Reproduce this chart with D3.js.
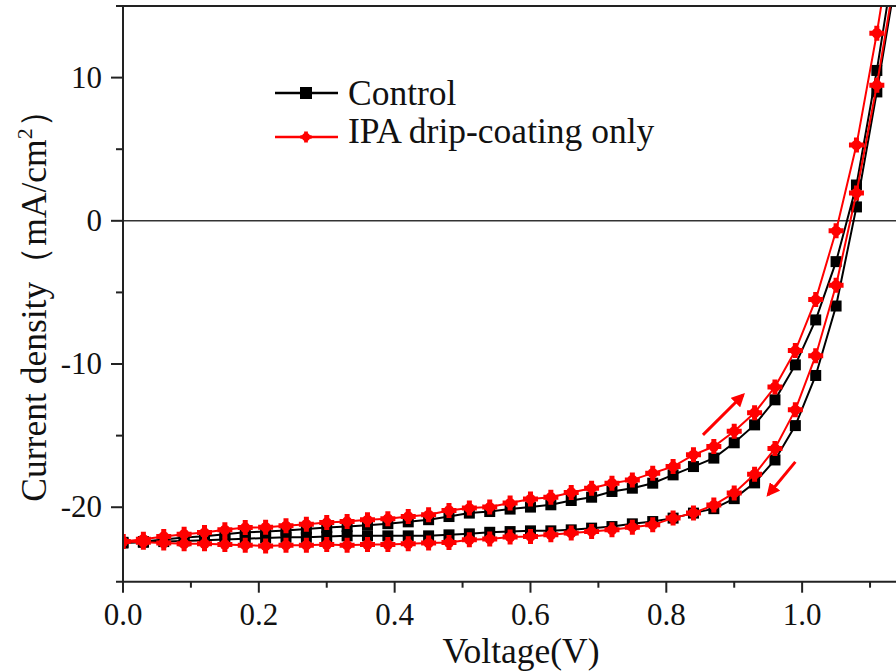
<!DOCTYPE html>
<html>
<head>
<meta charset="utf-8">
<script src="https://cdn.jsdelivr.net/npm/d3@7"></script>
<style>
  body { margin: 0; background: #fff; }
  svg { display: block; font-family: "Liberation Serif", "Times New Roman", "DejaVu Serif", serif; }
</style>
</head>
<body>
<svg width="896" height="671"></svg>
<script>
// voltage steps of the J-V scans (V)
const voltage = [0, 0.03, 0.06, 0.09, 0.12, 0.15, 0.18, 0.21, 0.24, 0.27, 0.30, 0.33, 0.36, 0.39,
  0.42, 0.45, 0.48, 0.51, 0.54, 0.57, 0.60, 0.63, 0.66, 0.69, 0.72, 0.75, 0.78, 0.81, 0.84, 0.87,
  0.90, 0.93, 0.96, 0.99, 1.02, 1.05, 1.08, 1.11, 1.14];

// current density (mA/cm2)
const controlForward = [-22.45, -22.40, -22.25, -22.12, -22.02, -21.88, -21.75, -21.70, -21.62, -21.52,
  -21.42, -21.35, -21.25, -21.15, -21.02, -20.87, -20.65, -20.41, -20.30, -20.13, -19.99, -19.83,
  -19.53, -19.30, -18.90, -18.67, -18.32, -17.74, -17.16, -16.57, -15.50, -14.25, -12.50, -10.06,
  -6.92, -2.85, 2.50, 10.50, 19.5];
const controlReverse = [-22.50, -22.45, -22.40, -22.35, -22.30, -22.25, -22.20, -22.15, -22.10, -22.10,
  -22.05, -22.00, -22.00, -22.00, -22.00, -22.00, -21.93, -21.86, -21.75, -21.70, -21.65, -21.65,
  -21.58, -21.46, -21.35, -21.16, -21.00, -20.76, -20.41, -20.10, -19.40, -18.30, -16.70, -14.30,
  -10.80, -5.95, 0.97, 9.00, 17.5];
const ipaForward = [-22.39, -22.23, -22.04, -21.88, -21.77, -21.58, -21.42, -21.40, -21.30, -21.18,
  -21.07, -21.00, -20.88, -20.80, -20.65, -20.53, -20.23, -20.06, -19.99, -19.71, -19.43, -19.30,
  -18.97, -18.67, -18.32, -18.09, -17.62, -17.16, -16.34, -15.76, -14.70, -13.40, -11.60, -9.06,
  -5.50, -0.70, 5.29, 13.10, 22.0];
const ipaReverse = [-22.40, -22.45, -22.50, -22.55, -22.55, -22.60, -22.65, -22.70, -22.65, -22.65,
  -22.60, -22.65, -22.60, -22.60, -22.55, -22.50, -22.46, -22.27, -22.22, -22.08, -22.04, -21.92,
  -21.80, -21.69, -21.57, -21.39, -21.23, -20.76, -20.40, -19.85, -19.00, -17.70, -15.90, -13.20,
  -9.42, -4.50, 1.94, 9.47, 18.0];

const seriesNames = ["Control", "IPA drip-coating only"];
const xTicks = [0, 0.2, 0.4, 0.6, 0.8, 1.0];
const xMinorTicks = [0.1, 0.3, 0.5, 0.7, 0.9, 1.1];
const yTicks = [-20, -10, 0, 10];
const yMinorTicks = [-15, -5, 5, 15];
// scan direction arrows [v1, j1, v2, j2]
const arrows = [[0.854, -14.95, 0.913, -12.16], [0.990, -16.83, 0.950, -19.13]];

const svg = d3.select("svg");
const plotLeft = 123, plotRight = 904, plotTop = 6, plotBottom = 581.7;

const x = d3.scaleLinear().domain([0, 1.15]).range([plotLeft, plotRight]);
const y = d3.scaleLinear().domain([-25.2, 15]).range([plotBottom, plotTop]);

const defs = svg.append("defs");
defs.append("clipPath").attr("id", "plotclip")
  .append("rect").attr("x", plotLeft).attr("y", plotTop)
  .attr("width", 896 - plotLeft).attr("height", plotBottom - plotTop);

const axisColor = "#222";
const tickFont = "31px", titleFont = "35.5px";

// zero line
svg.append("line")
  .attr("x1", plotLeft).attr("x2", 896)
  .attr("y1", y(0)).attr("y2", y(0))
  .attr("stroke", "#333").attr("stroke-width", 1.6);

// curves
const plot = svg.append("g").attr("clip-path", "url(#plotclip)");
const line = d3.line().x((d, i) => x(voltage[i])).y(d => y(d));

const starPath = d3.symbol().type(d3.symbolCross).size(125)();

function drawSeries(values, color, kind) {
  plot.append("path")
    .datum(values)
    .attr("d", line)
    .attr("fill", "none")
    .attr("stroke", color)
    .attr("stroke-width", 2);
  const g = plot.selectAll(null)
    .data(values)
    .enter()
    .append("g")
    .attr("transform", (d, i) => `translate(${x(voltage[i])},${y(d)})`);
  if (kind === "square") {
    g.append("rect")
      .attr("x", -5.5).attr("y", -5.5).attr("width", 11).attr("height", 11)
      .attr("fill", color);
  } else {
    g.append("path").attr("d", starPath).attr("fill", color);
    g.append("circle").attr("r", 5.2).attr("fill", color);
  }
}

drawSeries(controlForward, "#000", "square");
drawSeries(controlReverse, "#000", "square");
drawSeries(ipaForward, "#ff0000", "star");
drawSeries(ipaReverse, "#ff0000", "star");

// arrows
defs.append("marker")
  .attr("id", "arrowhead")
  .attr("viewBox", "0 0 10 10")
  .attr("refX", 8).attr("refY", 5)
  .attr("markerWidth", 4.5).attr("markerHeight", 4.5)
  .attr("orient", "auto")
  .append("path").attr("d", "M0,0 L10,5 L0,10 z").attr("fill", "#ff0000");

svg.selectAll(".arrow")
  .data(arrows)
  .enter()
  .append("line")
  .attr("class", "arrow")
  .attr("x1", d => x(d[0])).attr("y1", d => y(d[1]))
  .attr("x2", d => x(d[2])).attr("y2", d => y(d[3]))
  .attr("stroke", "#ff0000")
  .attr("stroke-width", 3)
  .attr("marker-end", "url(#arrowhead)");

// frame lines
svg.append("line").attr("x1", 116).attr("x2", 896).attr("y1", plotTop).attr("y2", plotTop)
  .attr("stroke", axisColor).attr("stroke-width", 2);
svg.append("line").attr("x1", 116).attr("x2", 896).attr("y1", plotBottom).attr("y2", plotBottom)
  .attr("stroke", axisColor).attr("stroke-width", 2);
svg.append("line").attr("x1", plotLeft).attr("x2", plotLeft).attr("y1", plotTop).attr("y2", plotBottom)
  .attr("stroke", axisColor).attr("stroke-width", 2);

// y ticks
svg.selectAll(".ytick").data(yTicks).enter().append("line")
  .attr("x1", plotLeft - 12).attr("x2", plotLeft).attr("y1", d => y(d)).attr("y2", d => y(d))
  .attr("stroke", axisColor).attr("stroke-width", 2);
svg.selectAll(".yminor").data(yMinorTicks).enter().append("line")
  .attr("x1", plotLeft - 7).attr("x2", plotLeft).attr("y1", d => y(d)).attr("y2", d => y(d))
  .attr("stroke", axisColor).attr("stroke-width", 2);
svg.selectAll(".ylabel").data(yTicks).enter().append("text")
  .attr("x", 102).attr("y", d => y(d)).attr("dy", "0.32em")
  .attr("text-anchor", "end")
  .style("font-size", tickFont).attr("fill", "#111")
  .text(d => d);

// x ticks
svg.selectAll(".xtick").data(xTicks).enter().append("line")
  .attr("x1", d => x(d)).attr("x2", d => x(d)).attr("y1", plotBottom).attr("y2", plotBottom + 11)
  .attr("stroke", axisColor).attr("stroke-width", 2);
svg.selectAll(".xminor").data(xMinorTicks).enter().append("line")
  .attr("x1", d => x(d)).attr("x2", d => x(d)).attr("y1", plotBottom).attr("y2", plotBottom + 6)
  .attr("stroke", axisColor).attr("stroke-width", 2);
svg.selectAll(".xlabel").data(xTicks).enter().append("text")
  .attr("x", d => x(d)).attr("y", 625)
  .attr("text-anchor", "middle")
  .style("font-size", tickFont).attr("fill", "#111")
  .text(d => d.toFixed(1));

// axis titles
svg.append("text")
  .attr("x", 521).attr("y", 663)
  .attr("text-anchor", "middle")
  .style("font-size", titleFont).attr("fill", "#111")
  .text("Voltage(V)");

const yTitle = svg.append("text")
  .attr("transform", "translate(46,297) rotate(-90)")
  .attr("text-anchor", "middle")
  .style("font-size", titleFont).attr("fill", "#111");
yTitle.append("tspan").text("Current density\uFF08mA/cm");
yTitle.append("tspan").attr("dy", -14).style("font-size", "22px").text("2");
yTitle.append("tspan").attr("dy", 14).text("\uFF09");

// legend
const legend = svg.append("g");
const legendRows = [
  { name: seriesNames[0], color: "#000", kind: "square", y: 93, ty: 105 },
  { name: seriesNames[1], color: "#ff0000", kind: "star", y: 137, ty: 143 }
];
legendRows.forEach(r => {
  legend.append("line").attr("x1", 275).attr("x2", 338).attr("y1", r.y).attr("y2", r.y)
    .attr("stroke", r.color).attr("stroke-width", 2.5);
  if (r.kind === "square") {
    legend.append("rect").attr("x", 300).attr("y", r.y - 6).attr("width", 12).attr("height", 12)
      .attr("fill", r.color);
  } else {
    legend.append("path").attr("d", d3.symbol().type(d3.symbolCross).size(70)())
      .attr("transform", `translate(306,${r.y})`).attr("fill", r.color);
    legend.append("circle").attr("cx", 306).attr("cy", r.y).attr("r", 4).attr("fill", r.color);
  }
  legend.append("text").attr("x", 348).attr("y", r.ty)
    .style("font-size", titleFont).attr("fill", "#111")
    .text(r.name);
});
</script>
</body>
</html>
